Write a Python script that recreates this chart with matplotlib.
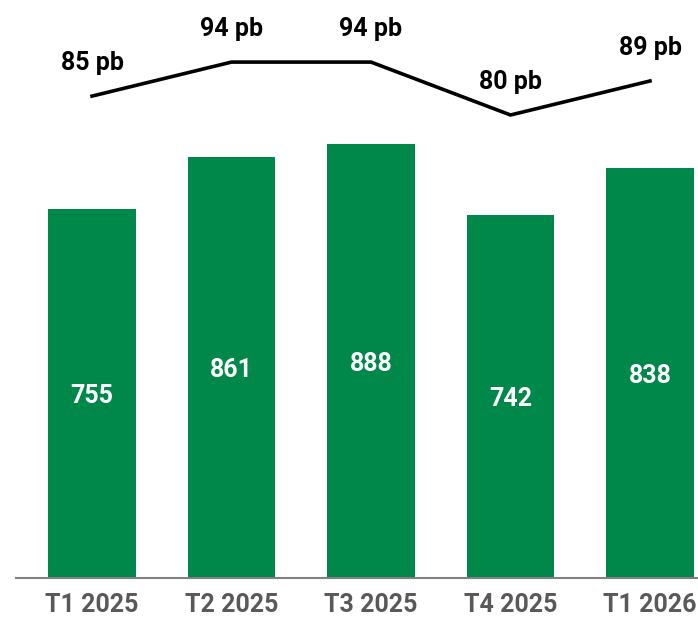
import matplotlib.pyplot as plt

quarters = ['T1 2025', 'T2 2025', 'T3 2025', 'T4 2025', 'T1 2026']
values = [755, 861, 888, 742, 838]
spread_pb = [85, 94, 94, 80, 89]

green = '#00874A'
gray = '#595959'

plt.rcParams['font.family'] = ['Roboto', 'DejaVu Sans']

fig = plt.figure(figsize=(6.98, 6.19), dpi=100)
ax = fig.add_axes([16 / 698, 41 / 619, 682 / 698, 578 / 619])

x = list(range(len(quarters)))
ax.bar(x, values, width=0.63, color=green, zorder=2)
for xi, v in zip(x, values):
    ax.text(xi, v / 2, str(v), ha='center', va='center_baseline', color='white',
            fontsize=18, fontweight='bold')

ax.set_xlim(-0.545, 4.344)
ax.set_ylim(0, 578 / 0.4887)
ax.set_xticks(x)
ax.set_xticklabels(quarters, fontsize=18, fontweight='bold', color=gray)
ax.tick_params(axis='x', length=0, pad=11)
ax.set_yticks([])
for s in ['top', 'right', 'left']:
    ax.spines[s].set_visible(False)
ax.spines['bottom'].set_color('#808080')
ax.spines['bottom'].set_linewidth(1.5)

# margin line on its own scale
ax2 = ax.twinx()
ppb = 3.78
top = 80 + 115 / ppb
ax2.set_ylim(top - 578 / ppb, top)
ax2.plot(x, spread_pb, color='black', lw=2.6, solid_joinstyle='miter')
for xi, v in zip(x, spread_pb):
    ax2.annotate(f'{v} pb', (xi, v), xytext=(0, 24), textcoords='offset points',
                 ha='center', va='center', fontsize=18, fontweight='bold')
ax2.axis('off')

fig.savefig('out.png', dpi=100)
